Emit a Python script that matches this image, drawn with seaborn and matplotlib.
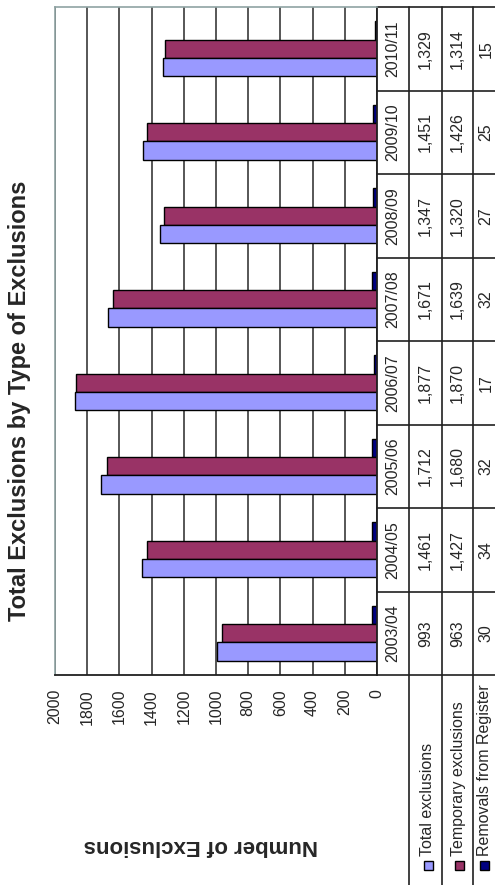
import matplotlib
matplotlib.use("Agg")
import matplotlib.pyplot as plt
import matplotlib.transforms as mtransforms
from matplotlib.patches import Rectangle
import seaborn as sns
import pandas as pd

categories = ['2003/04', '2004/05', '2005/06', '2006/07', '2007/08', '2008/09', '2009/10', '2010/11']
total_exclusions = [993, 1461, 1712, 1877, 1671, 1347, 1451, 1329]
temporary_exclusions = [963, 1427, 1680, 1870, 1639, 1320, 1426, 1314]
removals_from_register = [30, 34, 32, 17, 32, 27, 25, 15]
series_names = ['Total exclusions', 'Temporary exclusions', 'Removals from Register']
series_colors = ['#9999FF', '#993366', '#000080']
value_ticks = [0, 200, 400, 600, 800, 1000, 1200, 1400, 1600, 1800, 2000]

sns.set_theme(style='white')
plt.rcParams['font.family'] = ['Liberation Sans', 'DejaVu Sans']

W, H = 495, 885
fig = plt.figure(figsize=(W / 100, H / 100), dpi=100)


def fx(x):
    return x / W


def fy(y):
    return 1 - y / H


# plot area in pixels
PL, PR, PT, PB = 55, 377, 7, 675
ax = fig.add_axes([fx(PL), fy(PB), fx(PR) - fx(PL), fy(PT) - fy(PB)])

series_values = [total_exclusions, temporary_exclusions, removals_from_register]
rows = []
for name, vals in zip(series_names, series_values):
    for c, v in zip(categories, vals):
        rows.append({'Year': c, 'Series': name, 'Value': v})
df = pd.DataFrame(rows)

order = categories[::-1]
hue_order = series_names[::-1]
palette = dict(zip(series_names, series_colors))

sns.barplot(data=df, y='Year', x='Value', hue='Series', order=order,
            hue_order=hue_order, palette=palette, orient='h', width=0.66,
            edgecolor='black', linewidth=1.0, saturation=1, legend=False, ax=ax)

ax.set_xlim(2000, 0)
ax.set_ylim(len(order) - 0.5, -0.5)
ax.set_xticks(value_ticks)
ax.set_xticklabels([str(t) for t in value_ticks], rotation=90, fontsize=11.5)
ax.tick_params(axis='x', direction='out', length=5, width=1, color='#303030', pad=5)
ax.set_yticks([])
ax.set_xlabel('')
ax.set_ylabel('')
ax.grid(axis='x', color='#3a3a3a', linewidth=1.2)
ax.grid(axis='y', visible=False)
ax.set_axisbelow(True)
for side in ['top', 'left']:
    ax.spines[side].set_color('#8fa3a3')
    ax.spines[side].set_linewidth(1.2)
for side in ['right', 'bottom']:
    ax.spines[side].set_color('#202020')
    ax.spines[side].set_linewidth(1.3)

# Title and axis title
fig.text(fx(20), fy(401), 'Total Exclusions by Type of Exclusions', rotation=90,
         fontsize=17, fontweight='bold', ha='center', va='center')
fig.text(fx(201), fy(845), 'Number of Exclusions', rotation=180,
         fontsize=16, fontweight='bold', ha='center', va='center')

# Data table
blend = mtransforms.blended_transform_factory(fig.transFigure, ax.transData)
col_edges = [377, 409, 442, 473, 510]
col_centers = [393, 425.5, 457.5, 486]

for i, cat in enumerate(order):
    idx = categories.index(cat)
    cells = [cat,
             f'{total_exclusions[idx]:,}',
             f'{temporary_exclusions[idx]:,}',
             f'{removals_from_register[idx]:,}']
    for c, txt in enumerate(cells):
        ax.text(fx(col_centers[c]), i, txt, rotation=90, fontsize=11.5,
                ha='center', va='center', transform=blend, clip_on=False)

# horizontal table lines
for k in range(len(order) + 1):
    ax.plot([fx(377), fx(W)], [k - 0.5, k - 0.5], transform=blend,
            color='#202020', linewidth=1.2, clip_on=False)
# vertical table lines
for xe in col_edges[1:4]:
    fig.add_artist(plt.Line2D([fx(xe), fx(xe)], [fy(PT), fy(H)],
                              transform=fig.transFigure, color='#202020', linewidth=1.2))

# row headers with legend keys
header_x = [428, 459, 484]
for c, (name, color) in enumerate(zip(series_names, series_colors)):
    cx = header_x[c]
    s = 9
    fig.add_artist(Rectangle((fx(cx - s / 2), fy(865.5 + s / 2)), s / W, s / H,
                             transform=fig.transFigure, facecolor=color,
                             edgecolor='black', linewidth=1.0))
    fig.text(fx(cx), fy(856), name, rotation=90, rotation_mode='anchor',
             fontsize=11.5, ha='left', va='center')

fig.savefig('out.png', dpi=100)
